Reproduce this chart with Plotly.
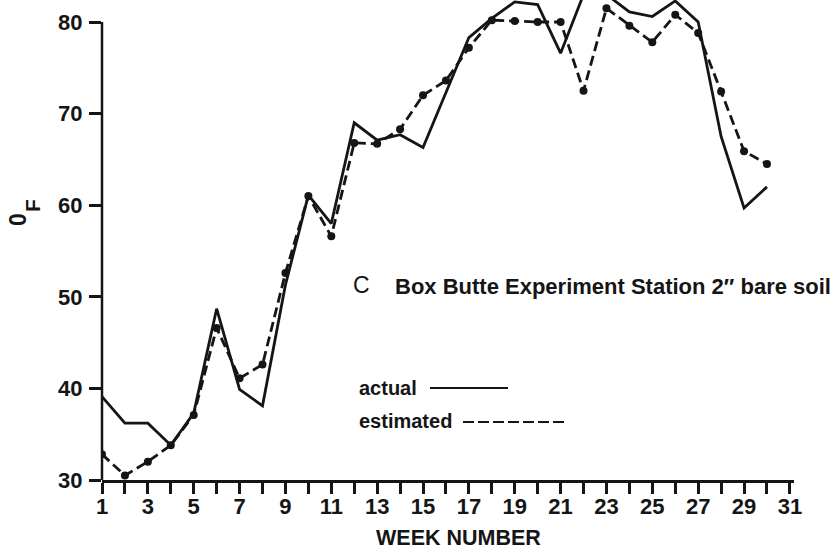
import plotly.graph_objects as go

# ---- data ----
weeks = list(range(1, 31))
actual = [39.1, 36.2, 36.2, 33.8, 37.3, 48.7, 39.9, 38.1, 51.3, 61.1,
          58.0, 69.0, 67.1, 67.7, 66.3, 72.3, 78.3, 80.4, 82.2, 81.9,
          76.6, 83.0, 83.0, 81.1, 80.6, 82.3, 80.0, 67.5, 59.7, 62.0]
estimated = [32.8, 30.5, 32.0, 33.8, 37.1, 46.6, 41.1, 42.6, 52.6, 61.0,
             56.6, 66.8, 66.7, 68.3, 72.0, 73.6, 77.2, 80.2, 80.1, 80.0,
             80.0, 72.5, 81.5, 79.6, 77.8, 80.8, 78.8, 72.4, 65.9, 64.5]
y_ticks = [30, 40, 50, 60, 70, 80]
x_ticks = list(range(1, 32, 2))

INK = "#151515"
FONT = "Liberation Sans"

W, H = 834, 552
ML, MR, MT, MB = 102, 40, 0, 72
PW, PH = W - ML - MR, H - MT - MB


def px(xp):
    return (xp - ML) / PW


def py(yp):
    return (MT + PH - yp) / PH


fig = go.Figure()
fig.add_trace(go.Scatter(x=weeks, y=actual, mode="lines", name="actual",
                         line=dict(color=INK, width=2.8)))
fig.add_trace(go.Scatter(x=weeks, y=estimated, mode="lines+markers", name="estimated",
                         line=dict(color=INK, width=2.8, dash="10px,5px"),
                         marker=dict(color=INK, size=8)))

fig.update_layout(
    width=W, height=H, autosize=False,
    margin=dict(l=ML, r=MR, t=MT, b=MB, pad=0),
    paper_bgcolor="white", plot_bgcolor="white",
    showlegend=False,
    font=dict(family=FONT, color=INK),
)

fig.update_xaxes(
    range=[1, 1 + PW / 22.93],
    showgrid=False, zeroline=False,
    showline=True, linecolor=INK, linewidth=2.5,
    ticks="outside", ticklen=11, tickwidth=2.5, tickcolor=INK,
    tickmode="array", tickvals=x_ticks, ticktext=[str(v) for v in x_ticks],
    tickfont=dict(family=FONT, size=22, weight="bold", color=INK),
    ticklabelstandoff=-6,
    minor=dict(tickmode="linear", tick0=1, dtick=1, ticks="outside",
               ticklen=11, tickwidth=2.5, tickcolor=INK),
)
fig.update_yaxes(
    range=[30, 80 + 22 / 9.16],
    showgrid=False, zeroline=False, showline=False,
    ticks="outside", ticklen=12, tickwidth=2.5, tickcolor=INK,
    tickmode="array", tickvals=y_ticks, ticktext=[str(v) for v in y_ticks],
    tickfont=dict(family=FONT, size=22, weight="bold", color=INK),
    ticklabelstandoff=2,
)

shapes = [
    # y axis line (stops at 80 like the original)
    dict(type="line", xref="paper", yref="y", x0=0, x1=0, y0=30, y1=80,
         line=dict(color=INK, width=2.5)),
    # legend samples
    dict(type="line", xref="paper", yref="paper", x0=px(430), x1=px(508),
         y0=py(388), y1=py(388), line=dict(color=INK, width=2)),
    dict(type="line", xref="paper", yref="paper", x0=px(463), x1=px(567),
         y0=py(422), y1=py(422), line=dict(color=INK, width=2, dash="11px,4px")),
]
fig.update_layout(shapes=shapes)


def ann(text, x, y, size, xanchor="left", bold=True, angle=0):
    fig.add_annotation(text=text, xref="paper", yref="paper", x=px(x), y=py(y),
                       xanchor=xanchor, yanchor="middle", showarrow=False,
                       textangle=angle,
                       font=dict(family=FONT, size=size, color=INK,
                                 weight="bold" if bold else "normal"))


ann("C", 351, 285, 23, bold=False)
ann("Box Butte Experiment Station 2\u2033 bare soil", 393, 286, 22)
ann("actual", 357, 388, 20)
ann("estimated", 357, 421, 20)
ann("WEEK NUMBER", 458, 538, 21.5, xanchor="center")
ann("0", 18, 220, 23, xanchor="center", angle=-90)
ann("F", 32, 206, 21, xanchor="center", angle=-90)

fig.write_html("out.html", config={"displayModeBar": False},
               post_script="document.body.style.margin='0';")
